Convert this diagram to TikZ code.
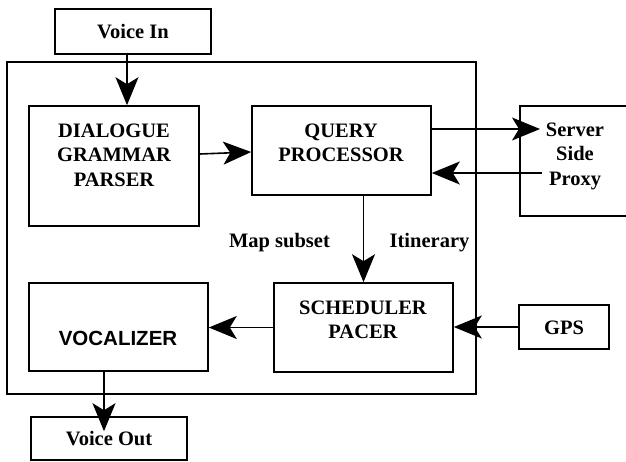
\documentclass[tikz,border=0pt]{standalone}
\usepackage{fontspec}
\setmainfont{Liberation Serif}
\newfontfamily\arialfont{Liberation Sans}
\usetikzlibrary{arrows.meta}

\tikzset{
  box/.style={draw, line width=1.6pt, inner sep=0pt},
  frame/.style={draw, line width=2pt},
  txt/.style={font=\bfseries\fontsize{20.5}{24.5}\selectfont, align=center, inner sep=0pt},
  tip/.style={-{Stealth[length=28pt, width=23pt, inset=7pt]}},
  arr/.style={line width=1.6pt, tip},
  thinarr/.style={line width=1.1pt, tip}
}

\begin{document}
\begin{tikzpicture}[x=1pt, y=-1pt]
  \useasboundingbox (0,0) rectangle (626,461);

  % enclosing system frame
  \draw[frame] (7,62) rectangle (476,394);

  % boxes
  \node[box, minimum width=156pt, minimum height=45pt] (voicein) at (133,31.5) {};
  \node[box, minimum width=170pt, minimum height=120pt] (dialogue) at (114,166) {};
  \node[box, minimum width=179pt, minimum height=89pt] (query) at (341.5,150.5) {};
  \node[box, minimum width=140pt, minimum height=110pt, anchor=west] (server) at (519,161) {};
  \node[box, minimum width=179pt, minimum height=89pt] (scheduler) at (363.5,327.5) {};
  \node[box, minimum width=179pt, minimum height=88pt] (vocalizer) at (118.5,327) {};
  \node[box, minimum width=90pt, minimum height=44pt] (gps) at (564,327) {};
  \node[box, minimum width=156pt, minimum height=43pt] (voiceout) at (109,438.5) {};

  % box texts
  \node[txt] (voiceinT) at (133,32) {Voice In};
  \node[txt] (dialogueT) at (114,155) {DIALOGUE\\GRAMMAR\\PARSER};
  \node[txt] (queryT) at (341,143) {QUERY\\PROCESSOR};
  \node[txt] (serverT) at (575,156) {Server\\Side\\Proxy};
  \node[txt] (schedulerT) at (363,320) {SCHEDULER\\PACER};
  \node[txt, font=\arialfont\bfseries\fontsize{20.5}{24.5}\selectfont] (vocalizerT) at (118,338) {VOCALIZER};
  \node[txt] (gpsT) at (564,328) {GPS};
  \node[txt] (voiceoutT) at (109,439) {Voice Out};

  % connector labels
  \node[txt, anchor=base] (mapsubset) at (279.5,247) {Map subset};
  \node[txt, anchor=base] (itinerary) at (429.5,247) {Itinerary};

  % connectors
  \draw[arr] ([xshift=-6pt]voicein.south) -- ([xshift=13pt]dialogue.north);
  \draw[arr] ([yshift=12pt]dialogue.east) -- ([yshift=-1.5pt]query.west);
  \draw[arr] ([yshift=21.5pt]query.east) -- ([xshift=21pt,yshift=32pt]server.west);
  \draw[arr] ([xshift=23pt,yshift=-12pt]server.west) -- ([yshift=-22.5pt]query.east);
  \draw[arr] (query.south -| scheduler.north) -- (scheduler.north);
  \draw[arr] (scheduler.west) -- (scheduler.west -| vocalizer.east);
  \draw[arr] (gps.west) -- (gps.west -| scheduler.east);
  \draw[thinarr] ([xshift=-14.5pt]vocalizer.south) -- ([xshift=-5pt,yshift=-15pt]voiceout.north);
\end{tikzpicture}
\end{document}
